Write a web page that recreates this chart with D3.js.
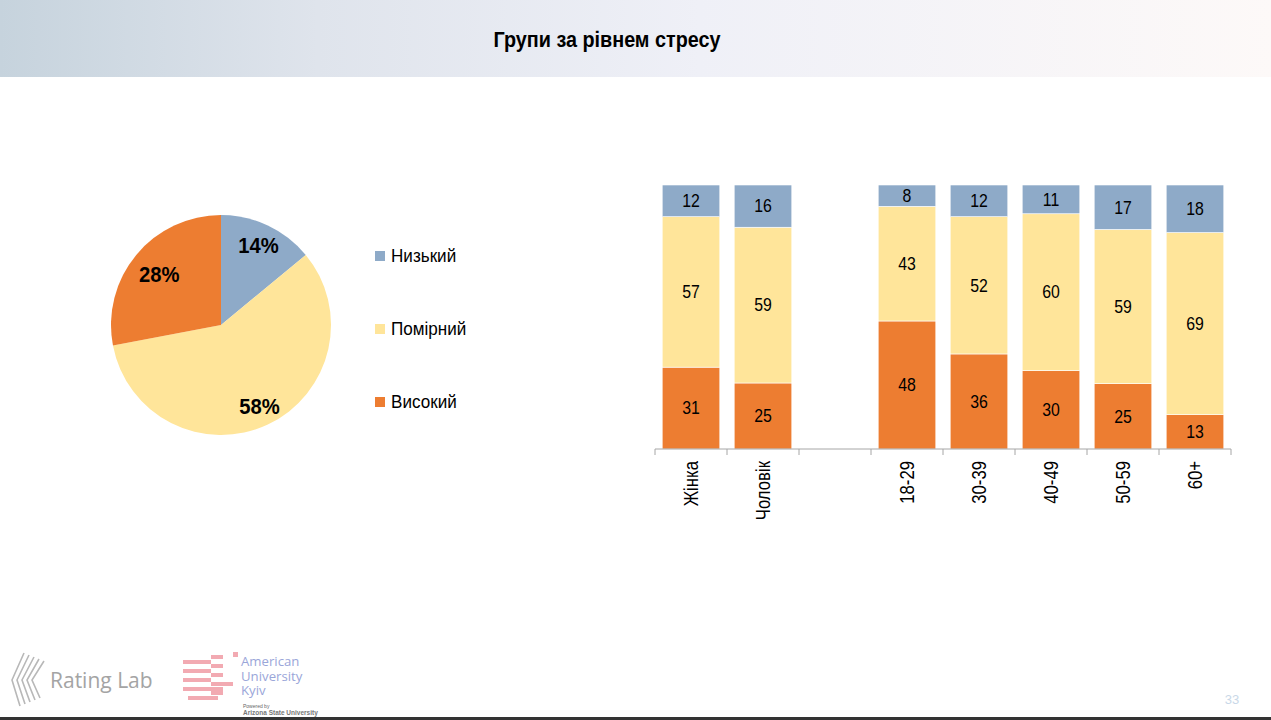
<!DOCTYPE html>
<html><head><meta charset="utf-8">
<script src="https://cdn.jsdelivr.net/npm/d3@7"></script>
<style>
html,body{margin:0;padding:0;background:#fff;}
svg{display:block;}
</style></head>
<body>
<script>
// ---- data ----
const pieLabels = ["Низький", "Помірний", "Високий"];
const pieValues = [14, 58, 28];
const categories = ["Жінка", "Чоловік", "", "18-29", "30-39", "40-49", "50-59", "60+"];
const lowValues  = [12, 16, null, 8, 12, 11, 17, 18];
const midValues  = [57, 59, null, 43, 52, 60, 59, 69];
const highValues = [31, 25, null, 48, 36, 30, 25, 13];
const title = "Групи за рівнем стресу";

const colors = {"Низький": "#8eaac8", "Помірний": "#ffe59a", "Високий": "#ed7d31"};
const narrow = "'Liberation Sans Narrow','Arial Narrow','Liberation Sans',Arial,sans-serif";

const W = 1271, H = 720;
const svg = d3.select("body").append("svg").attr("width", W).attr("height", H);

// header gradient
const defs = svg.append("defs");
const grad = defs.append("linearGradient").attr("id", "hdr").attr("x1", "0").attr("x2", "1").attr("y1", "0").attr("y2", "0");
grad.append("stop").attr("offset", "0").attr("stop-color", "#c6d3dd");
grad.append("stop").attr("offset", "0.25").attr("stop-color", "#dfe4ec");
grad.append("stop").attr("offset", "0.55").attr("stop-color", "#eff0f7");
grad.append("stop").attr("offset", "1").attr("stop-color", "#fdf9f8");
svg.append("rect").attr("x", 0).attr("y", 0).attr("width", W).attr("height", 77).attr("fill", "url(#hdr)");
svg.append("text").attr("transform", "translate(607,47) scale(0.9,1)").attr("text-anchor", "middle")
  .attr("font-family", narrow).attr("font-weight", "bold").attr("font-size", 22).attr("fill", "#000")
  .text(title);

// ---- pie ----
const cx = 221, cy = 325, R = 110;
const pie = d3.pie().sort(null).value(d => d.v);
const pieData = pie(pieLabels.map((l, i) => ({l, v: pieValues[i]})));
const arc = d3.arc().innerRadius(0).outerRadius(R);
const gp = svg.append("g").attr("transform", `translate(${cx},${cy})`);
gp.selectAll("path").data(pieData).enter().append("path")
  .attr("d", arc).attr("fill", d => colors[d.data.l]);
const labelRadius = {"Низький": 0.8, "Помірний": 0.82, "Високий": 0.73};
gp.selectAll("text").data(pieData).enter().append("text")
  .attr("transform", d => {
    const r = R * labelRadius[d.data.l];
    const c = d3.arc().innerRadius(r).outerRadius(r).centroid(d);
    return `translate(${c[0]},${c[1]}) scale(0.92,1)`;
  })
  .attr("text-anchor", "middle").attr("dy", "0.35em")
  .attr("font-family", narrow).attr("font-weight", "bold").attr("font-size", 22).attr("fill", "#000")
  .text(d => d.data.v + "%");

// legend
const lg = svg.append("g");
pieLabels.forEach((l, i) => {
  const y = 256 + i * 73;
  lg.append("rect").attr("x", 375).attr("y", y - 5).attr("width", 10).attr("height", 10).attr("fill", colors[l]);
  lg.append("text").attr("transform", `translate(391,${y}) scale(0.95,1)`).attr("dy", "0.35em")
    .attr("font-family", narrow).attr("font-size", 18).attr("fill", "#000").text(l);
});

// ---- stacked bars ----
const x = d3.scaleBand().domain(categories).range([655, 1231]).paddingInner(0.2).paddingOuter(0.1);
const y = d3.scaleLinear().domain([0, 1]).range([449, 185]);
const keys = ["Високий", "Помірний", "Низький"];
const rows = categories.map((c, i) => ({cat: c, "Низький": lowValues[i], "Помірний": midValues[i], "Високий": highValues[i]}))
  .filter(r => r["Низький"] != null);
const stack = d3.stack().keys(keys).offset(d3.stackOffsetExpand);
const series = stack(rows);
const gb = svg.append("g");
series.forEach(s => {
  const g = gb.append("g");
  s.forEach(d => {
    const x0 = x(d.data.cat), bw = x.bandwidth();
    g.append("rect").attr("x", x0).attr("y", y(d[1])).attr("width", bw).attr("height", y(d[0]) - y(d[1]))
      .attr("fill", colors[s.key]).attr("stroke", "#fff").attr("stroke-width", 0.6);
    g.append("text").attr("transform", `translate(${x0 + bw / 2},${(y(d[0]) + y(d[1])) / 2}) scale(0.88,1)`).attr("dy", "0.35em")
      .attr("text-anchor", "middle").attr("font-family", narrow).attr("font-size", 18).attr("fill", "#000")
      .text(d.data[s.key]);
  });
});

// axis
const axisG = svg.append("g").attr("transform", "translate(0,449)");
axisG.append("line").attr("x1", 655).attr("x2", 1231).attr("y1", 0).attr("y2", 0).attr("stroke", "#a6a6a6").attr("stroke-width", 1);
const ticks = categories.map(c => x(c) - x.step() * x.paddingInner() / 2).concat([1231]);
axisG.selectAll("line.t").data(ticks).enter().append("line").attr("class", "t")
  .attr("x1", d => d).attr("x2", d => d).attr("y1", 0).attr("y2", 6).attr("stroke", "#a6a6a6");
axisG.selectAll("text").data(categories.filter(c => c !== "")).enter().append("text")
  .attr("transform", d => `translate(${x(d) + x.bandwidth() / 2},12) rotate(-90) scale(0.88,1.05)`)
  .attr("text-anchor", "end").attr("dy", "0.35em")
  .attr("font-family", narrow).attr("font-size", 19).attr("fill", "#000").text(d => d);

// ---- footer logos ----
const lgo = svg.append("g");
for (let i = 0; i < 5; i++) {
  const ox = 12 + i * 5;
  lgo.append("path").attr("d", `M${ox + 12},${653 + i * 2} L${ox},${680} L${ox + 8},${706 - i * 2}`)
    .attr("fill", "none").attr("stroke", "#b8b8b8").attr("stroke-width", 1.6);
}
lgo.append("text").attr("x", 50).attr("y", 688).attr("font-family", "'Open Sans',sans-serif").attr("font-size", 21)
  .attr("fill", "#a4a4a4").text("Rating Lab");
const pinkBars = [[211, 655, 12, 4], [233, 652, 5, 5], [183, 660, 28, 4], [211, 664, 12, 4], [183, 669, 28, 4], [211, 673, 12, 4],
  [183, 678, 28, 4], [211, 682, 22, 4], [183, 687, 40, 4], [211, 691, 12, 4], [188, 696, 30, 4]];
pinkBars.forEach(b => lgo.append("rect").attr("x", b[0]).attr("y", b[1]).attr("width", b[2]).attr("height", b[3]).attr("fill", "#f2aab2"));
["American", "University", "Kyiv"].forEach((t, i) => {
  lgo.append("text").attr("transform", `translate(241,${666 + i * 14.5}) scale(1.1,1)`).attr("font-family", "'Open Sans',sans-serif").attr("font-size", 12)
    .attr("fill", "#9aa6d9").text(t);
});
lgo.append("text").attr("x", 243).attr("y", 708).attr("font-family", "Arial,sans-serif").attr("font-size", 5).attr("fill", "#666").text("Powered by");
lgo.append("text").attr("x", 243).attr("y", 715).attr("font-family", "Arial,sans-serif").attr("font-size", 6.5).attr("font-weight", "bold").attr("fill", "#777").text("Arizona State University");
svg.append("text").attr("x", 1232).attr("y", 704).attr("text-anchor", "middle").attr("font-family", "Arial,sans-serif")
  .attr("font-size", 13).attr("fill", "#c9d8e8").text("33");
svg.append("rect").attr("x", 0).attr("y", 717).attr("width", W).attr("height", 3).attr("fill", "#333");
</script>
</body></html>
